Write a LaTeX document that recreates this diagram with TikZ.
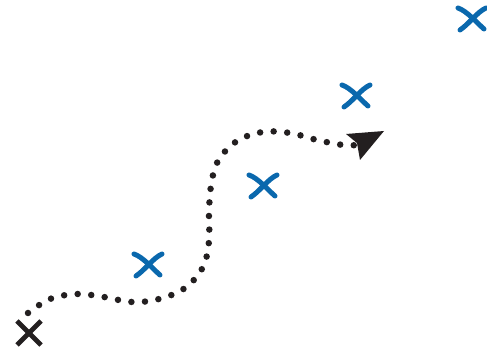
\documentclass[tikz,border=0pt]{standalone}
\definecolor{xblue}{HTML}{0A68AD}
\definecolor{xblack}{HTML}{231F20}
\tikzset{
  bluestroke/.style={xblue, line width=5pt, line cap=round},
  bluex/.pic={
    \draw[bluestroke] (-13,-10) .. controls (-4,-7) and (6,5) .. (13,11);
    \draw[bluestroke] (-11,12) .. controls (-2,6) and (6,-6) .. (15,-10);
  },
  blackx/.pic={
    \draw[xblack, line width=4.8pt] (-12,-12) -- (12,12);
    \draw[xblack, line width=4.8pt] (-12,12) -- (12,-12);
  },
  dotpath/.style={xblack, line width=6.5pt, line cap=round, dash pattern=on 0pt off 13.6pt},
}
\begin{document}
\begin{tikzpicture}[x=1pt,y=-1pt]
\useasboundingbox (0,0) rectangle (487,352);
\pic at (29,333) {blackx};
\pic at (147,264) {bluex};
\pic at (262,185) {bluex};
\pic at (355,95) {bluex};
\pic at (471,18) {bluex};
\draw[dotpath] plot[smooth, tension=0.6] coordinates {(28,313) (50,299) (77,294) (104,297) (132,302) (159,299) (185,288) (203,267) (209,241) (209,214) (211,186) (218,161) (237,141) (263,132) (290,133) (317,140) (343,145) (357,145)};
\coordinate (tip) at (384,131);
\coordinate (wl) at (346,134);
\coordinate (notch) at (357,143);
\coordinate (wr) at (360,160);
\fill[xblack] (tip) -- (wl) -- (notch) -- (wr) -- cycle;
\end{tikzpicture}
\end{document}
